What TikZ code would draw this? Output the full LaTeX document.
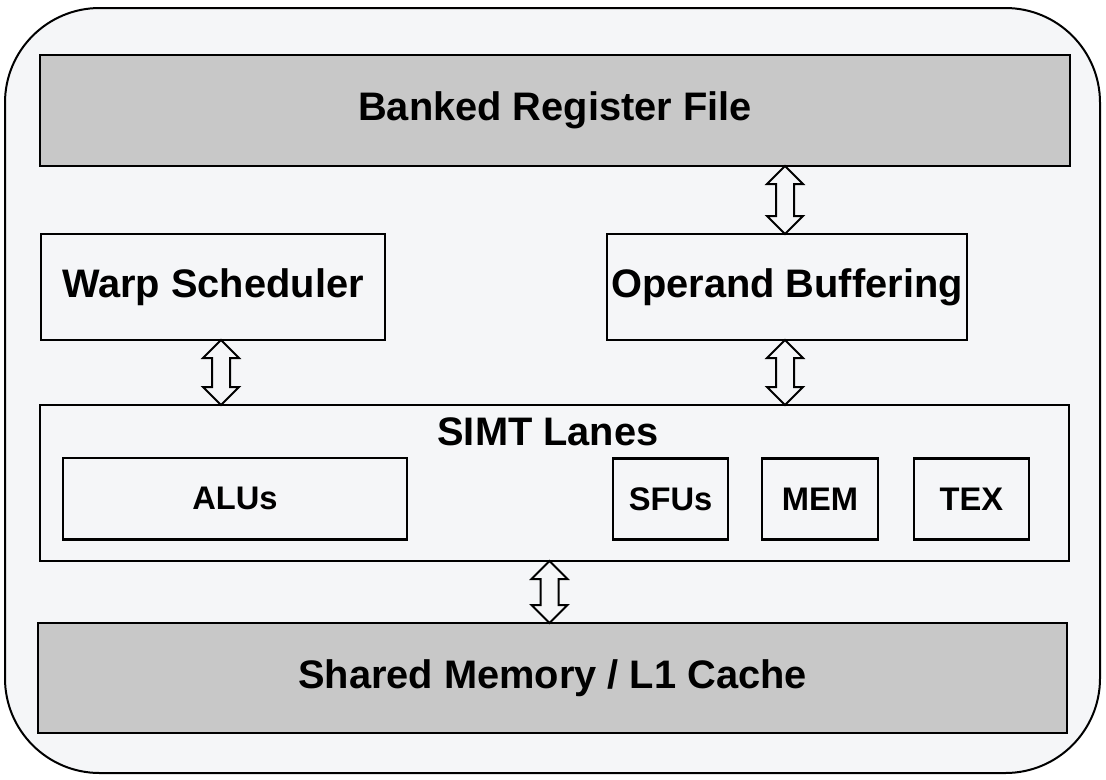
\documentclass[tikz,border=0pt]{standalone}
\usepackage{fontspec}
\setmainfont{Liberation Sans}
\usepackage{xcolor}
\usepackage{tikz}
\usetikzlibrary{calc, positioning}
\definecolor{panelbg}{RGB}{245,246,248}
\definecolor{bankgray}{RGB}{200,200,200}

% hollow two-headed arrow from #1 (top tip) to #2 (bottom tip)
\newcommand{\biarrow}[2]{%
    \draw[fatarrow] (#1) -- ++(-18,18) -- ++(9,0) -- ($(#2)+(-9,-18)$) -- ++(-9,0)
        -- (#2) -- ++(18,-18) -- ++(-9,0) -- ($(#1)+(9,18)$) -- ++(9,0) -- cycle;}

\begin{document}
\begin{tikzpicture}[
    x=0.75pt, y=-0.75pt,
    panel/.style={draw=black, fill=panelbg, line width=1.5pt, rounded corners=71pt},
    block/.style={draw=black, fill=panelbg, rectangle, line width=2.2pt, inner sep=0pt, outer sep=0pt, align=center, font=\fontsize{29.85}{34}\selectfont\bfseries},
    grayblock/.style={block, fill=bankgray},
    unit/.style={block, line width=2pt, minimum height=61pt, font=\fontsize{24.5}{28}\selectfont\bfseries},
    title/.style={font=\fontsize{29.85}{34}\selectfont\bfseries, inner sep=0pt},
    fatarrow/.style={draw=black, fill=panelbg, line width=1.5pt, line join=miter}
]
    \useasboundingbox (0,0) rectangle (1106,779);
    \draw[panel] (5,8) rectangle (1100,773);

    % Nodes
    \node (regfile) [grayblock, minimum width=772.5pt, minimum height=83.25pt] at (555,110.5) {Banked Register File};
    \node (warp) [block, minimum width=258pt, minimum height=79.5pt] at (213,287) {Warp Scheduler};
    \node (operand) [block, minimum width=270pt, minimum height=79.5pt] at (787,287) {Operand Buffering};
    \node (simt) [block, minimum width=771.75pt, minimum height=117pt] at (554.5,483) {};
    \node (simttitle) [title] at (548,432) {SIMT Lanes};
    \node (alus) [unit, minimum width=258pt] at (235,498.5) {ALUs};
    \node (sfus) [unit, minimum width=86.25pt] at (670.5,499) {SFUs};
    \node (mem) [unit, minimum width=87pt, right=25.5pt of sfus] {MEM};
    \node (tex) [unit, minimum width=86.25pt, right=27pt of mem] {TEX};
    \node (shared) [grayblock, minimum width=771.75pt, minimum height=82.5pt] at (552.5,678) {Shared Memory / L1 Cache};

    % Arrows
    \biarrow{$(regfile.south -| operand.north)+(-2,0)$}{$(operand.north)+(-2,0)$}
    \biarrow{$(warp.south)+(8,0)$}{$(simt.north -| warp.south)+(8,0)$}
    \biarrow{$(operand.south)+(-2,0)$}{$(simt.north -| operand.south)+(-2,0)$}
    \biarrow{$(simt.south)+(-5,0)$}{$(shared.north -| simt.south)+(-5,0)$}
\end{tikzpicture}
\end{document}
